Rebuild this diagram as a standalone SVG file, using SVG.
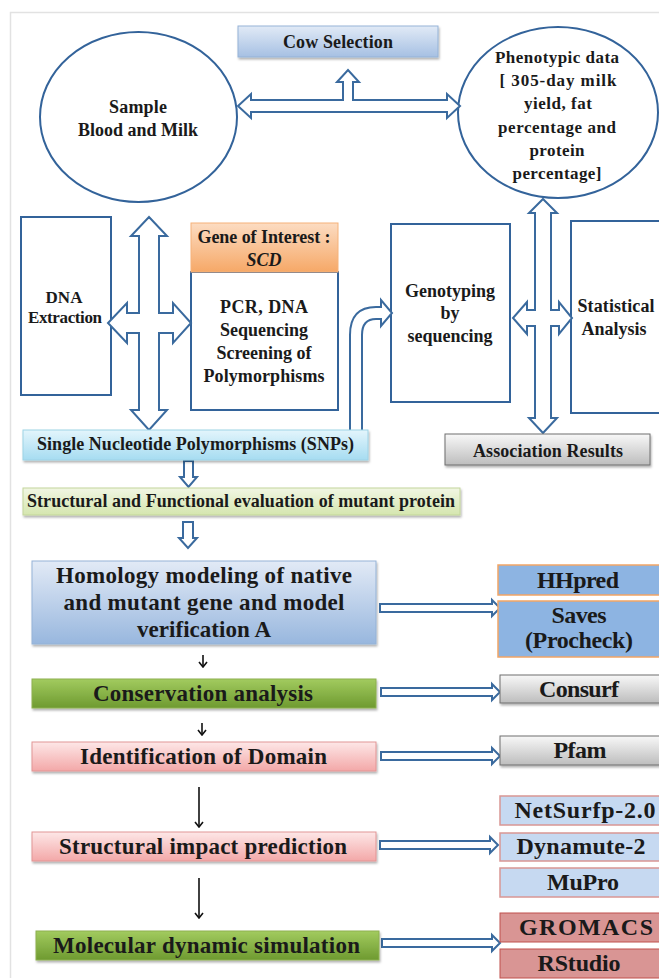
<svg xmlns="http://www.w3.org/2000/svg" width="659" height="980" viewBox="0 0 659 980">
<defs>
<linearGradient id="gBlue" x1="0" y1="0" x2="0" y2="1"><stop offset="0" stop-color="#E1EAF6"/><stop offset="1" stop-color="#A6C0E3"/></linearGradient>
<linearGradient id="gOrange" x1="0" y1="0" x2="0" y2="1"><stop offset="0" stop-color="#FCDCC2"/><stop offset="1" stop-color="#F6A867"/></linearGradient>
<linearGradient id="gCyan" x1="0" y1="0" x2="0" y2="1"><stop offset="0" stop-color="#E3F5FC"/><stop offset="1" stop-color="#A6DCF1"/></linearGradient>
<linearGradient id="gLGreen" x1="0" y1="0" x2="0" y2="1"><stop offset="0" stop-color="#F1F6E3"/><stop offset="1" stop-color="#D5E6AF"/></linearGradient>
<linearGradient id="gHom" x1="0" y1="0" x2="0" y2="1"><stop offset="0" stop-color="#E2EAF6"/><stop offset="1" stop-color="#98B7DE"/></linearGradient>
<linearGradient id="gGray" x1="0" y1="0" x2="0" y2="1"><stop offset="0" stop-color="#F8F8F8"/><stop offset="1" stop-color="#BDBDBD"/></linearGradient>
<linearGradient id="gGreen" x1="0" y1="0" x2="0" y2="1"><stop offset="0" stop-color="#A2CB5F"/><stop offset="1" stop-color="#6E9A30"/></linearGradient>
<linearGradient id="gPink" x1="0" y1="0" x2="0" y2="1"><stop offset="0" stop-color="#FDE7E7"/><stop offset="1" stop-color="#F3A8A8"/></linearGradient>
<filter id="sh" x="-10%" y="-20%" width="120%" height="150%"><feDropShadow dx="1" dy="2" stdDeviation="1.2" flood-color="#000" flood-opacity="0.3"/></filter>
<marker id="ah" viewBox="0 0 10 10" refX="9" refY="5" markerWidth="10" markerHeight="10" markerUnits="userSpaceOnUse" orient="auto">
<path d="M4,1 L9,5 L4,9" fill="none" stroke="#111" stroke-width="1.6"/>
</marker>
</defs>
<style>
text{font-family:"Liberation Serif","Times New Roman",serif;font-weight:bold;fill:#1a1a1a;text-anchor:middle}
.s18{font-size:18px}
.s17{font-size:17px}
.s24{font-size:24px}
.s23{font-size:23px}
.ob{fill:#fff;stroke:#33639A;stroke-width:2}
.hol{fill:#fff;stroke:#3A6A9E;stroke-width:2;stroke-linejoin:miter}
.thin{stroke:#111;stroke-width:1.6;fill:none}
.tool1{fill:#8DB4E2;stroke:#F2A566;stroke-width:1.5}
.tool2{fill:#C6D9F1;stroke:#D99694;stroke-width:1.5}
.tool3{fill:#D99594;stroke:#C0504D;stroke-width:1}
</style>
<rect width="659" height="980" fill="#fff"/>
<path d="M10.5,978 V12.5 H659" fill="none" stroke="#E2E2E2" stroke-width="1.5"/>

<g id="cow-selection"><rect x="238" y="26" width="200" height="31" fill="url(#gBlue)" stroke="#95B3D7" filter="url(#sh)"/><text class="s18" x="338" y="48" textLength="110">Cow Selection</text></g>
<g id="sample"><ellipse class="ob" cx="138.5" cy="117" rx="98.5" ry="85"/><text class="s18" x="138" y="113" textLength="58">Sample</text><text class="s18" x="138" y="136" textLength="120">Blood and Milk</text></g>
<g id="phenotypic"><ellipse class="ob" cx="558" cy="112.5" rx="100" ry="85.5"/>
<text class="s17" x="557" y="63" textLength="124">Phenotypic data</text>
<text class="s17" x="558" y="86" textLength="117">[ 305-day  milk</text>
<text class="s17" x="558" y="109" textLength="68">yield, fat</text>
<text class="s17" x="557" y="133" textLength="118">percentage and</text>
<text class="s17" x="557" y="156" textLength="55">protein</text>
<text class="s17" x="557" y="179" textLength="89">percentage]</text></g>
<g id="dna-extraction"><rect class="ob" x="21" y="217" width="90" height="178"/><text class="s17" x="64" y="303" textLength="37">DNA</text><text class="s17" x="65" y="323" textLength="74">Extraction</text></g>
<g id="pcr"><rect class="ob" x="191" y="272" width="147" height="138"/><rect x="191" y="223" width="147" height="49" fill="url(#gOrange)" stroke="#F5B27A"/>
<text class="s18" x="264" y="243" textLength="133">Gene of Interest :</text><text class="s18" x="264" y="266" font-style="italic">SCD</text>
<text class="s18" x="264" y="313" textLength="88">PCR, DNA</text><text class="s18" x="264" y="336">Sequencing</text><text class="s18" x="264" y="359">Screening of</text><text class="s18" x="264" y="382" textLength="121">Polymorphisms</text></g>
<g id="genotyping"><rect class="ob" x="391" y="224" width="119" height="178"/><text class="s18" x="450" y="297" textLength="90">Genotyping</text><text class="s18" x="450" y="319">by</text><text class="s18" x="450" y="342">sequencing</text></g>
<g id="statistical"><rect class="ob" x="571" y="221" width="95" height="192"/><text class="s18" x="616" y="312" textLength="77">Statistical</text><text class="s18" x="614" y="335">Analysis</text></g>

<g id="connectors">
<path class="hol" d="M238,106 L251,94 L251,100 L343,100 L343,82 L337,82 L348,70 L359,82 L353,82 L353,100 L447,100 L447,94 L460,106 L447,118 L447,112 L251,112 L251,118 Z"/>
<path class="hol" d="M149,217 L167,236 L159,236 L159,313 L173,313 L173,303 L191,323 L173,343 L173,333 L159,333 L159,410 L167,410 L149,430 L131,410 L139,410 L139,333 L127,333 L127,343 L108,323 L127,303 L127,313 L139,313 L139,236 L131,236 Z"/>
<path class="hol" d="M543,199 L557,213 L551,213 L551,310 L559,310 L559,302 L572,318 L559,334 L559,326 L551,326 L551,418 L557,418 L543,433 L529,418 L535,418 L535,326 L527,326 L527,334 L513,318 L527,302 L527,310 L535,310 L535,213 L529,213 Z"/>
<path class="hol" d="M350,431 L350,335 Q350,307 376,307 L381,307 L381,300 L392,313 L381,326 L381,319 L376,319 Q362,319 362,335 L362,431 Z"/>
<path class="hol" d="M184,461 L193,461 L193,477 L197,477 L188.5,487 L180,477 L184,477 Z"/>
<path class="hol" d="M183,522 L193,522 L193,538 L197,538 L188,548 L179,538 L183,538 Z"/>
<path class="hol" d="M380,604 L492,604 L492,600 L500,608 L492,616 L492,612 L380,612 Z"/>
<path class="hol" d="M381,688 L492,688 L492,684 L500,692 L492,700 L492,696 L381,696 Z"/>
<path class="hol" d="M381,752 L492,752 L492,748 L500,756 L492,764 L492,760 L381,760 Z"/>
<path class="hol" d="M380,841 L490,841 L490,837 L498,845 L490,853 L490,849 L380,849 Z"/>
<path class="hol" d="M382,939 L492,939 L492,935 L500,943 L492,951 L492,947 L382,947 Z"/>
<line class="thin" x1="203" y1="655" x2="203" y2="667" marker-end="url(#ah)"/>
<line class="thin" x1="202" y1="723" x2="202" y2="735" marker-end="url(#ah)"/>
<line class="thin" x1="199" y1="787" x2="199" y2="827" marker-end="url(#ah)"/>
<line class="thin" x1="199" y1="878" x2="199" y2="918" marker-end="url(#ah)"/>
</g>

<g id="snps"><rect x="23" y="430" width="345" height="30" fill="url(#gCyan)" stroke="#9ED3E6" filter="url(#sh)"/><text class="s18" x="195.5" y="450" textLength="317">Single Nucleotide Polymorphisms (SNPs)</text></g>
<g id="association"><rect x="445" y="434" width="205" height="31" fill="url(#gGray)" stroke="#6F6F6F" filter="url(#sh)"/><text class="s18" x="548" y="457" textLength="150">Association Results</text></g>
<g id="structural-functional"><rect x="23" y="488" width="437" height="27" fill="url(#gLGreen)" stroke="#C3D69B" filter="url(#sh)"/><text class="s18" x="241" y="507" textLength="428">Structural and Functional evaluation of mutant protein</text></g>
<g id="homology"><rect x="32" y="561" width="344" height="83" fill="url(#gHom)" stroke="#95B3D7" filter="url(#sh)"/>
<text class="s23" x="204" y="583" textLength="296">Homology modeling of native</text>
<text class="s23" x="204" y="610" textLength="281">and mutant gene and model</text>
<text class="s23" x="204" y="637" textLength="134">verification A</text></g>
<g id="conservation"><rect x="32" y="679" width="344" height="29" fill="url(#gGreen)" stroke="#8DB04F" filter="url(#sh)"/><text class="s23" x="203" y="701" textLength="220">Conservation analysis</text></g>
<g id="identification"><rect x="32" y="742" width="344" height="29" fill="url(#gPink)" stroke="#E29595" filter="url(#sh)"/><text class="s23" x="203.5" y="764" textLength="247">Identification of Domain</text></g>
<g id="structural-impact"><rect x="32" y="832" width="344" height="29" fill="url(#gPink)" stroke="#E29595" filter="url(#sh)"/><text class="s23" x="203" y="854" textLength="288">Structural impact prediction</text></g>
<g id="molecular-dynamic"><rect x="36" y="931" width="343" height="29" fill="url(#gGreen)" stroke="#8DB04F" filter="url(#sh)"/><text class="s23" x="206.5" y="953" textLength="307">Molecular dynamic simulation</text></g>

<g id="hhpred"><rect class="tool1" x="498" y="565" width="170" height="30"/><text class="s24" x="578" y="588" textLength="82">HHpred</text></g>
<g id="saves"><rect class="tool1" x="498" y="601" width="170" height="56"/><text class="s24" x="579" y="623" textLength="55">Saves</text><text class="s24" x="579" y="648" textLength="108">(Procheck)</text></g>
<g id="consurf"><rect x="500" y="675" width="170" height="28" fill="url(#gGray)" stroke="#6F6F6F" filter="url(#sh)"/><text class="s24" x="579" y="697" textLength="80">Consurf</text></g>
<g id="pfam"><rect x="500" y="736" width="170" height="29" fill="url(#gGray)" stroke="#6F6F6F" filter="url(#sh)"/><text class="s24" x="580" y="758" textLength="53">Pfam</text></g>
<g id="netsurfp"><rect class="tool2" x="500" y="796" width="170" height="29"/><text class="s24" x="585" y="818" textLength="141">NetSurfp-2.0</text></g>
<g id="dynamute"><rect class="tool2" x="500" y="833" width="170" height="28"/><text class="s24" x="581" y="854" textLength="129">Dynamute-2</text></g>
<g id="mupro"><rect class="tool2" x="500" y="868" width="170" height="29"/><text class="s24" x="583" y="890" textLength="72">MuPro</text></g>
<g id="gromacs"><rect class="tool3" x="500" y="913" width="170" height="29"/><text class="s24" x="586" y="935" font-size="25px" textLength="134">GROMACS</text></g>
<g id="rstudio"><rect class="tool3" x="500" y="949" width="170" height="29"/><text class="s24" x="579" y="971" textLength="83">RStudio</text></g>
</svg>
